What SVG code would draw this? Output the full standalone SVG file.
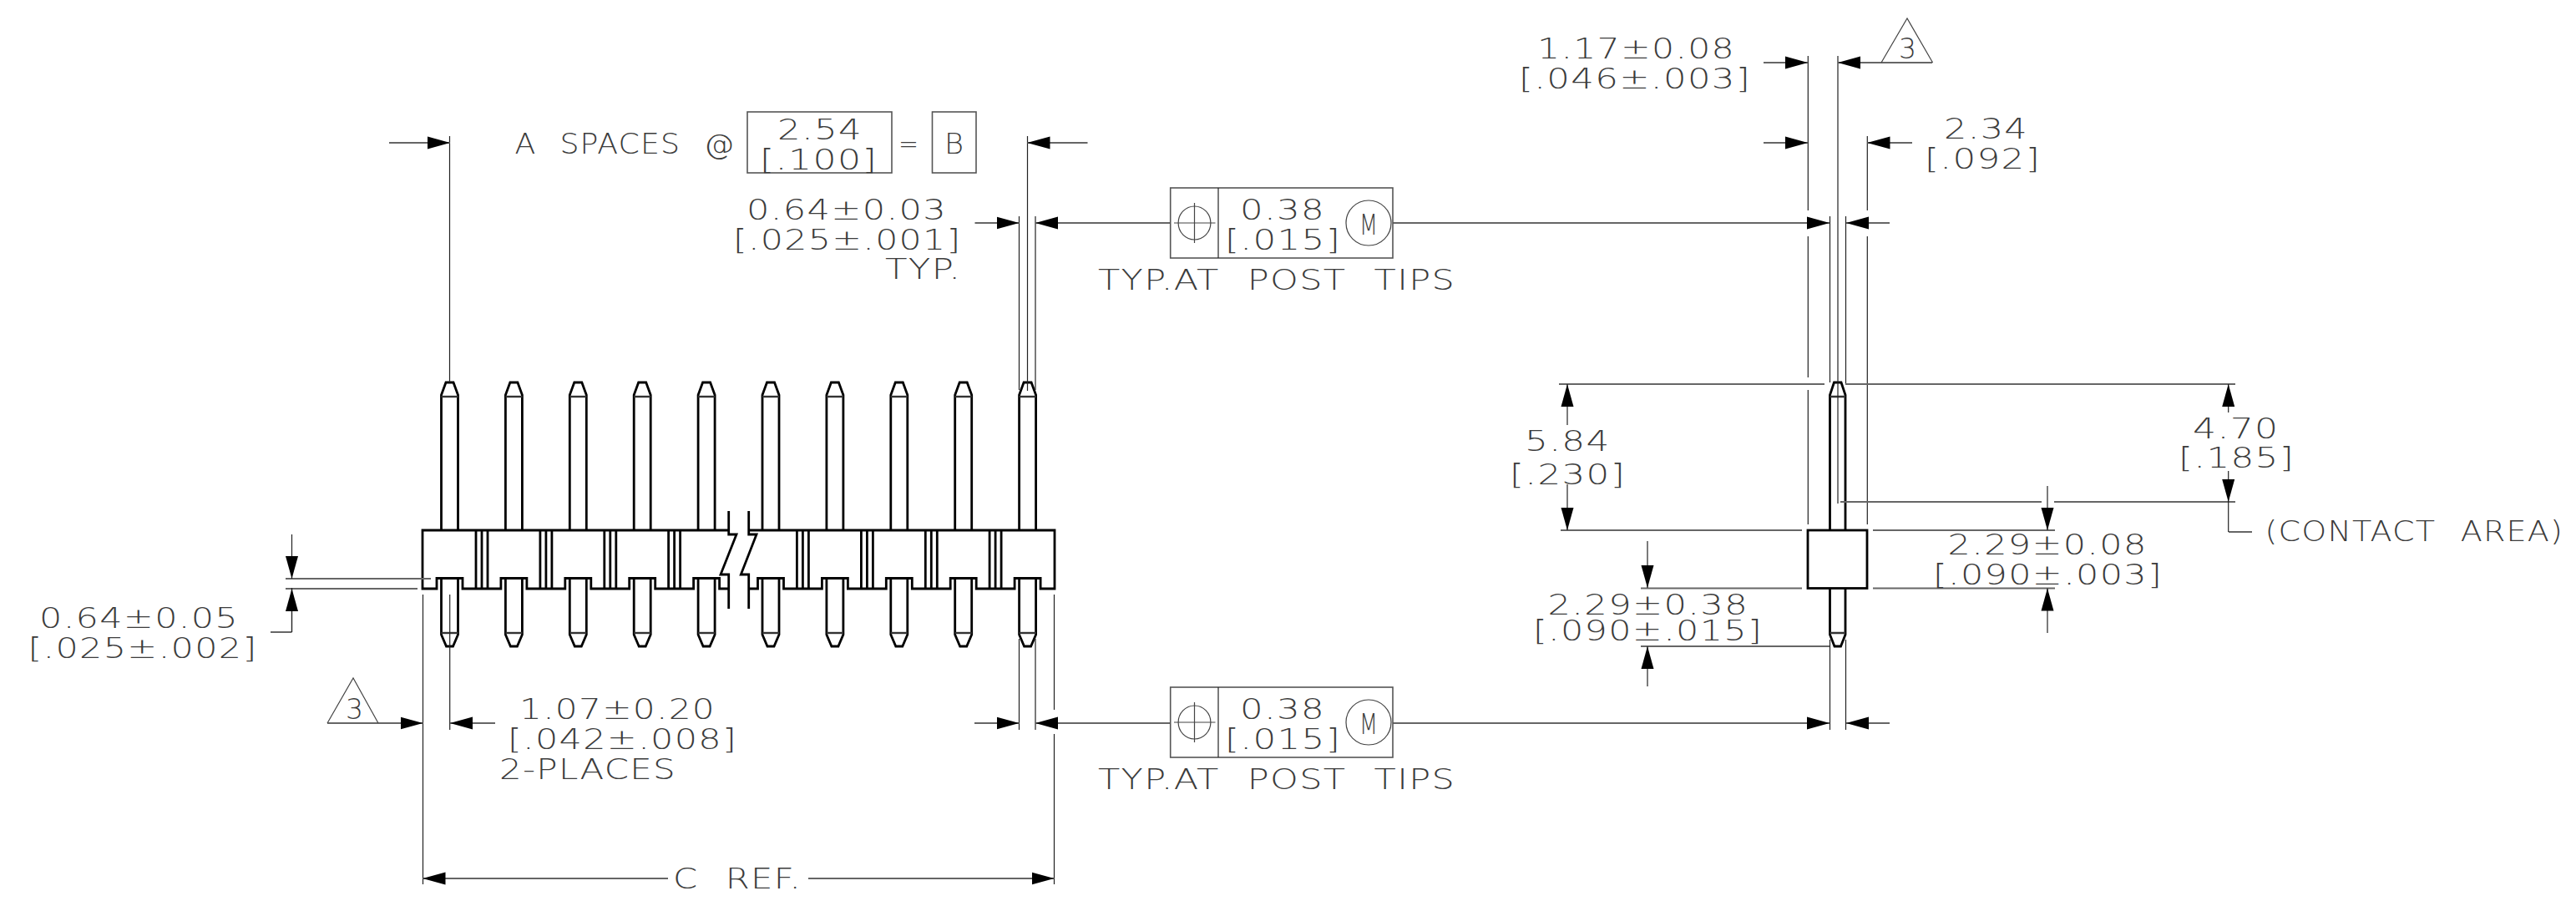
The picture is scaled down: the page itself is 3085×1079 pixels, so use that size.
<svg xmlns="http://www.w3.org/2000/svg" xmlns:xlink="http://www.w3.org/1999/xlink" width="3085" height="1079" viewBox="0 0 3085 1079">
<style>
text{font-family:"DejaVu Sans ExtraLight","DejaVu Sans","Liberation Sans",sans-serif;font-weight:200;font-size:33px;fill:#3a3a3a;letter-spacing:1px;word-spacing:14px;opacity:.99}
text.n{letter-spacing:0}
.part{fill:none;stroke:#000;stroke-width:2.8}
.shoulder{fill:none;stroke:#333;stroke-width:2.4}
.v{fill:none;stroke:#222;stroke-width:1.2}
.h{fill:none;stroke:#666;stroke-width:2}
.box{fill:none;stroke:#555;stroke-width:1.6}
.sym{fill:none;stroke:#444;stroke-width:1.2}
</style>
<defs>
<marker id="a" markerUnits="userSpaceOnUse" markerWidth="27" markerHeight="16" refX="27" refY="8" orient="auto"><path d="M0 0.5L27 8L0 15.5z" fill="#000"/></marker>
<g id="pin">
<path class="part" d="M-10 635V473L-4.5 458H4.5L10 473V635"/>
<path class="shoulder" d="M-10 475H10"/>
<path class="part" d="M-10 693V760L-4 774H4L10 760V693"/>
<path class="shoulder" d="M-10 758H10"/>
</g>
<path id="rib" class="part" d="M-7 635V705M0 635V705M7 635V705"/>
<g id="fcf">
<rect class="box" x="1401.7" y="0" width="266.3" height="84"/>
<path class="v" d="M1459 0V84"/>
<ellipse class="sym" cx="1430.5" cy="42" rx="19.4" ry="20"/>
<path class="sym" d="M1406 42H1455.5M1430.5 18V66"/>
<circle class="sym" cx="1639" cy="42" r="27"/>
<text x="1485" y="38" textLength="102" lengthAdjust="spacingAndGlyphs">0.38</text>
<text x="1467" y="74" textLength="139" lengthAdjust="spacingAndGlyphs">[.015]</text>
<text class="n" x="1628" y="56" textLength="22" lengthAdjust="spacingAndGlyphs">M</text>
<text x="1315" y="122" textLength="428" lengthAdjust="spacingAndGlyphs">TYP.AT POST TIPS</text>
</g>
</defs>
<rect width="3085" height="1079" fill="#fff"/>

<g id="front-view">
<path class="part" d="M872.7 612V640H882L863 688H872.7V729M872.7 705H861.6V692.5H830.6V705H784.7V692.5H753.7V705H707.8V692.5H676.8V705H630.9V692.5H599.9V705H554V692.5H523V705H506V635H872.7"/>
<path class="part" d="M896.7 612V640H906L887.3 688H896.7V729M896.7 635H1263V705H1246.1V692.5H1215.1V705H1169.2V692.5H1138.2V705H1092.3V692.5H1061.3V705H1015.4V692.5H984.4V705H938.5V692.5H907.5V705H896.7"/>
<use xlink:href="#rib" x="577"/><use xlink:href="#rib" x="653.9"/><use xlink:href="#rib" x="730.8"/><use xlink:href="#rib" x="807.6"/>
<use xlink:href="#rib" x="961.4"/><use xlink:href="#rib" x="1038.4"/><use xlink:href="#rib" x="1115.3"/><use xlink:href="#rib" x="1192.1"/>
<use xlink:href="#pin" x="538.5"/><use xlink:href="#pin" x="615.4"/><use xlink:href="#pin" x="692.3"/><use xlink:href="#pin" x="769.2"/><use xlink:href="#pin" x="846.1"/>
<use xlink:href="#pin" x="923"/><use xlink:href="#pin" x="999.9"/><use xlink:href="#pin" x="1076.8"/><use xlink:href="#pin" x="1153.7"/><use xlink:href="#pin" x="1230.6"/>
</g>

<g id="side-view">
<rect class="part" x="2165" y="635" width="71" height="69.5"/>
<path class="part" d="M2191.5 635V473L2196.5 458H2205L2210 473V635M2191.5 704.5V760L2197 774H2204.5L2210 760V704.5"/>
<path class="shoulder" d="M2191.5 475H2210M2191.5 758H2210"/>
</g>

<g id="connectors">
<path class="v" d="M538.5 163V458M1230.5 163V468M1220.5 259V467M1240 259V467"/>
<path class="v" d="M506.5 712V1059M538.7 712V874M1262.5 712V850M1262.5 879V1059M1220.5 765V874M1240 765V874"/>
<path class="v" d="M2165.3 67V252M2165.3 283V452M2165.3 467V628M2201 67V603M2191.5 259V458M2210.5 259V460M2236.3 163V252M2236.3 283V628M2191.5 766V874M2210.5 766V874"/>
<path class="h" d="M342 693H516M342 705H500"/>
<path class="h" d="M1867 460H2185M2210 460H2677M1869 635H2158M2243 635H2461M1965 704.5H2158M2243 704.5H2461M1965 774H2191M2204 601H2445M2460 601H2677"/>
<path class="h" d="M324 757H349.5"/>
<path class="h" d="M2669 637H2697"/>
<path class="v" d="M349.5 757V704M2668.7 601V637"/>
<g class="h" stroke-width="1.6">
<path marker-end="url(#a)" d="M466 171H539"/>
<path marker-end="url(#a)" d="M1302.5 171H1230.5"/>
<path marker-end="url(#a)" d="M1167.5 267H1220.5"/>
<path marker-end="url(#a)" d="M1401.7 267H1240"/>
<path marker-end="url(#a)" d="M1668 267H2191"/>
<path marker-end="url(#a)" d="M2263 267H2211"/>
<path marker-end="url(#a)" d="M2112 75H2165"/>
<path marker-end="url(#a)" d="M2314 75H2201"/>
<path marker-end="url(#a)" d="M2112 171H2165"/>
<path marker-end="url(#a)" d="M2290 171H2236.5"/>
<path marker-end="url(#a)" d="M392 866H506.5"/>
<path marker-end="url(#a)" d="M593 866H539"/>
<path marker-end="url(#a)" d="M1167 866H1220.5"/>
<path marker-end="url(#a)" d="M1401.7 866H1240"/>
<path marker-end="url(#a)" d="M1668 866H2191"/>
<path marker-end="url(#a)" d="M2263 866H2211"/>
<path marker-end="url(#a)" d="M800 1052H506.5"/>
<path marker-end="url(#a)" d="M968 1052H1262.5"/>
</g>
<g class="v">
<path marker-end="url(#a)" d="M349.5 640V693"/>
<path marker-end="url(#a)" d="M349.5 757V705"/>
<path marker-end="url(#a)" d="M1877 509V460"/>
<path marker-end="url(#a)" d="M1877 580V635"/>
<path marker-end="url(#a)" d="M1973 648V704"/>
<path marker-end="url(#a)" d="M1973 822V774"/>
<path marker-end="url(#a)" d="M2452 582V635"/>
<path marker-end="url(#a)" d="M2452 758V704.5"/>
<path marker-end="url(#a)" d="M2668.7 494V460"/>
<path marker-end="url(#a)" d="M2668.7 564V601"/>
</g>
</g>

<g id="datum-triangles">
<path class="sym" d="M392 866L423 812L453 866"/>
<text class="n" x="414" y="861" textLength="21" lengthAdjust="spacingAndGlyphs">3</text>
<path class="sym" d="M2253 75L2284 22L2314.6 75"/>
<text class="n" x="2274" y="70" textLength="21" lengthAdjust="spacingAndGlyphs">3</text>
</g>

<g id="spacing-note">
<text x="616.5" y="184" textLength="264" lengthAdjust="spacingAndGlyphs">A SPACES @</text>
<rect class="box" x="895" y="134" width="173" height="73"/>
<text x="931" y="167" textLength="102" lengthAdjust="spacingAndGlyphs">2.54</text>
<text x="910" y="203" textLength="141" lengthAdjust="spacingAndGlyphs">[.100]</text>
<text class="n" x="1076" y="184" textLength="24" lengthAdjust="spacingAndGlyphs">=</text>
<rect class="box" x="1116.5" y="134" width="52.5" height="73"/>
<text class="n" x="1131" y="184" textLength="23" lengthAdjust="spacingAndGlyphs">B</text>
</g>

<g id="fcf-top"><use xlink:href="#fcf" y="225"/></g>
<g id="fcf-bottom"><use xlink:href="#fcf" y="823"/></g>

<g id="dimension-labels">
<text x="47" y="752" textLength="239" lengthAdjust="spacingAndGlyphs">0.64±0.05</text>
<text x="33.5" y="788" textLength="275" lengthAdjust="spacingAndGlyphs">[.025±.002]</text>
<text x="622" y="861" textLength="235" lengthAdjust="spacingAndGlyphs">1.07±0.20</text>
<text x="608" y="897" textLength="275" lengthAdjust="spacingAndGlyphs">[.042±.008]</text>
<text x="598" y="933" textLength="212" lengthAdjust="spacingAndGlyphs">2-PLACES</text>
<text x="806" y="1064" textLength="154" lengthAdjust="spacingAndGlyphs">C REF.</text>
<text x="894" y="263" textLength="240" lengthAdjust="spacingAndGlyphs">0.64±0.03</text>
<text x="878" y="299" textLength="273.5" lengthAdjust="spacingAndGlyphs">[.025±.001]</text>
<text x="1060" y="334" textLength="91.5" lengthAdjust="spacingAndGlyphs">TYP.</text>
<text x="1841" y="70" textLength="237" lengthAdjust="spacingAndGlyphs">1.17±0.08</text>
<text x="1819" y="106" textLength="278" lengthAdjust="spacingAndGlyphs">[.046±.003]</text>
<text x="2328" y="166" textLength="101" lengthAdjust="spacingAndGlyphs">2.34</text>
<text x="2305" y="202" textLength="139" lengthAdjust="spacingAndGlyphs">[.092]</text>
<text x="1826" y="540" textLength="102.6" lengthAdjust="spacingAndGlyphs">5.84</text>
<text x="1808" y="580" textLength="139" lengthAdjust="spacingAndGlyphs">[.230]</text>
<text x="1853.5" y="736" textLength="240.5" lengthAdjust="spacingAndGlyphs">2.29±0.38</text>
<text x="1836" y="767" textLength="275" lengthAdjust="spacingAndGlyphs">[.090±.015]</text>
<text x="2332.6" y="664" textLength="239" lengthAdjust="spacingAndGlyphs">2.29±0.08</text>
<text x="2315" y="700" textLength="275" lengthAdjust="spacingAndGlyphs">[.090±.003]</text>
<text x="2626" y="525" textLength="103.5" lengthAdjust="spacingAndGlyphs">4.70</text>
<text x="2609" y="560" textLength="139" lengthAdjust="spacingAndGlyphs">[.185]</text>
<text x="2712.5" y="648" textLength="357.5" lengthAdjust="spacingAndGlyphs">(CONTACT AREA)</text>
</g>
</svg>
